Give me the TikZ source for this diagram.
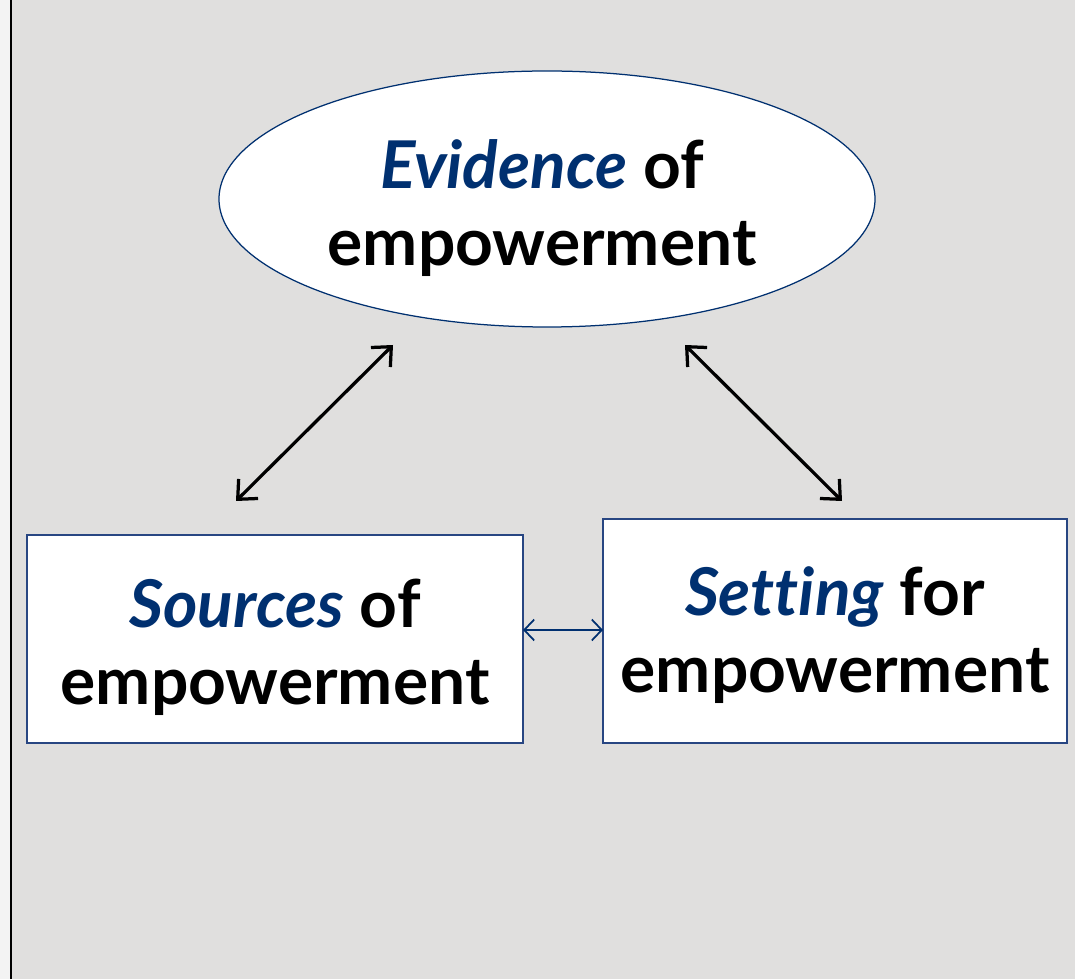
\documentclass[tikz,border=0pt]{standalone}
\usepackage{fontspec}
\setmainfont{Lato}[Ligatures=NoCommon]
\usetikzlibrary{arrows.meta}
\definecolor{navy}{RGB}{0,48,112}
\definecolor{boxline}{RGB}{40,70,130}
\definecolor{slide}{RGB}{224,223,222}
\definecolor{margin}{RGB}{243,243,243}
\tikzset{
    empbox/.style={draw=boxline, fill=white, line width=0.03cm},
    emptext/.style={align=center, font=\fontsize{37.5}{44}\selectfont\bfseries},
    linkarrow/.style={black, line width=0.065cm, {Straight Barb[length=0.3cm, width=0.55cm]}-{Straight Barb[length=0.3cm, width=0.55cm]}},
    siblingarrow/.style={navy, line width=0.035cm, {Straight Barb[length=0.2cm, width=0.42cm]}-{Straight Barb[length=0.2cm, width=0.42cm]}}
}
\newcommand{\keyword}[1]{{\color{navy}\itshape #1}}
\begin{document}
\begin{tikzpicture}[x=0.02cm, y=-0.02cm]
        % Draw background
        \useasboundingbox (0, 0) rectangle (1075, 979);
        \fill[slide] (0, 0) rectangle (1075, 979);
        \fill[margin] (0, 0) rectangle (10, 979);
        \draw[black, line width=0.045cm] (11, 0) -- (11, 979);

        % Draw ellipse and boxes
        \filldraw[draw=navy, fill=white, line width=0.025cm] (547, 199) ellipse (328 and 128);
        \node[emptext] (evidence) at (542, 208) {\keyword{Evidence} of\\empowerment};
        \draw[empbox] (27, 535) rectangle (523, 743);
        \node[emptext] (sources) at (275, 647) {\keyword{Sources} of\\empowerment};
        \draw[empbox] (603, 519) rectangle (1067, 743);
        \node[emptext] (setting) at (835, 635) {\keyword{Setting} for\\empowerment};

        % Arrow ends
        \coordinate (evL) at (393, 345);
        \coordinate (srcT) at (236, 501);
        \coordinate (evR) at (685, 345);
        \coordinate (setT) at (842, 501);
        \coordinate (srcR) at (523, 630);
        \coordinate (setL) at (603, 630);

        % Draw arrows
        \draw[linkarrow] (srcT) -- (evL);
        \draw[linkarrow] (evR) -- (setT);
        \draw[siblingarrow] (srcR) -- (setL);
\end{tikzpicture}
\end{document}
